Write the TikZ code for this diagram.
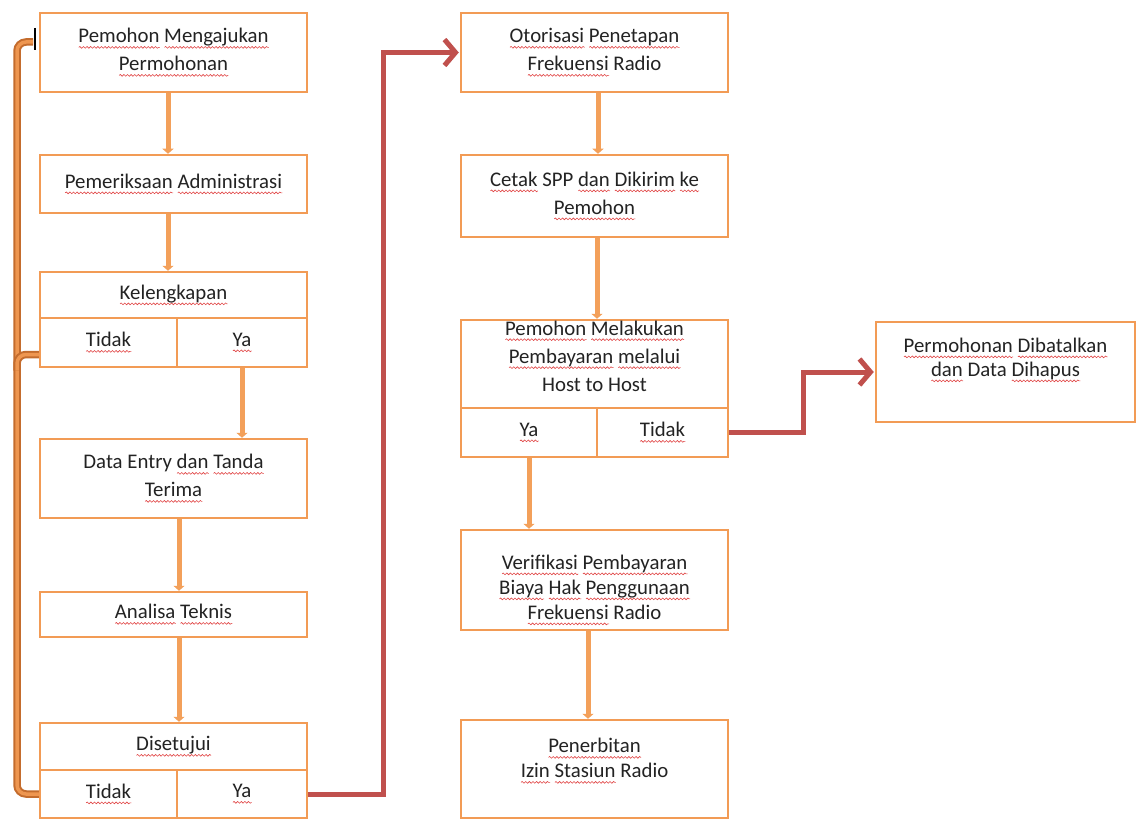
\documentclass[tikz,border=0pt]{standalone}
\usepackage{fontspec}
\setmainfont{Carlito}
\usetikzlibrary{arrows.meta,decorations.pathmorphing}

\definecolor{boxline}{RGB}{242,155,85}
\definecolor{flow}{RGB}{243,160,90}
\definecolor{loopdark}{RGB}{196,108,45}
\definecolor{looplight}{RGB}{238,150,80}
\definecolor{jump}{RGB}{192,80,77}
\definecolor{wavered}{RGB}{225,70,70}
\definecolor{ink}{RGB}{35,35,35}

% red wavy underline under a word
\newsavebox\sqbox
\newcommand\sq[1]{\sbox\sqbox{#1}\rlap{\raisebox{-4.5pt}{\tikz[baseline=0pt]
  \draw[wavered, line width=0.6pt, decorate,
    decoration={snake, amplitude=0.9pt, segment length=3.6pt}]
    (0pt,0pt) -- (\wd\sqbox,0pt);}}\usebox\sqbox}

\begin{document}
\begin{tikzpicture}[x=1pt,y=-1pt,
  box/.style 2 args={draw=boxline, line width=2.5pt, fill=white, inner sep=0pt,
    minimum width=#1, minimum height=#2, align=center, text=ink,
    font=\fontsize{20.8}{28}\selectfont},
  label text/.style={inner sep=0pt, align=center, text=ink,
    font=\fontsize{20.8}{28}\selectfont},
  flowarrow/.style={draw=flow, line width=5pt, -{Triangle[length=5pt,width=11pt]}},
  jumparrow/.style={draw=jump, line width=5pt, shorten >=1pt,
    -{Straight Barb[length=11pt,width=26pt]}},
  loopline/.style={draw=loopdark, line width=2pt, double=looplight,
    double distance=3.5pt, rounded corners=9pt},
]
\useasboundingbox[fill=white] (0,0) rectangle (1137,821);

% ---- left column ----
\node[box={267pt}{79pt}] (b1) at (173.5,52.5)
  {\sq{Pemohon} \sq{Mengajukan}\\ \sq{Permohonan}};
\node[box={267pt}{58pt}] (b2) at (173.5,184)
  {\sq{Pemeriksaan} \sq{Administrasi}};
\node[box={267pt}{46pt}] (b3) at (173.5,295) {\sq{Kelengkapan}};
\node[box={137pt}{49pt}] (b3l) at (108.5,342.5) {\sq{Tidak}};
\node[box={130pt}{49pt}] (b3r) at (242,342.5) {\sq{Ya}};
\node[box={267pt}{79pt}] (b4) at (173.5,478.5)
  {Data Entry \sq{dan} \sq{Tanda}\\ \sq{Terima}};
\node[box={267pt}{45pt}] (b5) at (173.5,614.5) {\sq{Analisa} \sq{Teknis}};
\node[box={267pt}{47pt}] (b6) at (173.5,746.5) {\sq{Disetujui}};
\node[box={137pt}{48pt}] (b6l) at (108.5,794) {\sq{Tidak}};
\node[box={130pt}{48pt}] (b6r) at (242,794) {\sq{Ya}};

% ---- right column ----
\node[box={267pt}{79pt}] (r1) at (594.5,52.5)
  {\sq{Otorisasi} \sq{Penetapan}\\ \sq{Frekuensi} Radio};
\node[box={267pt}{82pt}] (r2) at (594.5,196)
  {\sq{Cetak} SPP \sq{dan} \sq{Dikirim} \sq{ke}\\ \sq{Pemohon}};
\node[box={267pt}{88pt}] (r3) at (594.5,364) {};
\node[label text] (r3t) at ([yshift=8pt]r3.center)
  {\sq{Pemohon} \sq{Melakukan}\\ \sq{Pembayaran} \sq{melalui}\\ Host to Host};
\node[box={136pt}{49pt}] (r3l) at (529,432.5) {\sq{Ya}};
\node[box={131pt}{49pt}] (r3r) at (662.5,432.5) {\sq{Tidak}};
\node[box={267pt}{100pt}] (r4) at (594.5,580) {};
\node[label text] (r4t) at ([yshift=-10pt]r4.center)
  {\sq{Verifikasi} \sq{Pembayaran}\\[-3pt] \sq{Biaya} \sq{Hak} \sq{Penggunaan}\\[-3pt] \sq{Frekuensi} Radio};
\node[box={267pt}{98pt}] (r5) at (594.5,769) {};
\node[label text] (r5t) at ([yshift=8pt]r5.center)
  {\sq{Penerbitan}\\[-3pt] \sq{Izin} \sq{Stasiun} Radio};

% ---- cancelled branch ----
\node[box={259pt}{100pt}] (pd) at (1005.5,372) {};
\node[label text] (pdt) at ([yshift=12pt]pd.center)
  {\sq{Permohonan} \sq{Dibatalkan}\\[-4pt] \sq{dan} Data \sq{Dihapus}};

% ---- main flow ----
\draw[flowarrow] ([xshift=-5.5pt]b1.south) -- ([xshift=-5.5pt]b2.north);
\draw[flowarrow] ([xshift=-5.5pt]b2.south) -- ([xshift=-5.5pt]b3.north);
\draw[flowarrow] (b3r.south) -- (b3r.south |- b4.north);
\draw[flowarrow] ([xshift=5.5pt]b4.south) -- ([xshift=5.5pt]b5.north);
\draw[flowarrow] ([xshift=5.5pt]b5.south) -- ([xshift=5.5pt]b6.north);
\draw[flowarrow] ([xshift=3.5pt]r1.south) -- ([xshift=3.5pt]r2.north);
\draw[flowarrow] ([xshift=2.5pt]r2.south) -- ([xshift=2.5pt]r3.north);
\draw[flowarrow] (r3l.south) -- (r3l.south |- r4.north);
\draw[flowarrow] ([xshift=-6.5pt]r4.south) -- ([xshift=-6.5pt]r5.north);

% ---- return loop on the left ----
\coordinate (rail) at (17,0);
\coordinate (loopend) at (33,42);
\coordinate (kjoin) at ([yshift=-12pt]b3l.west);
\draw[loopline] (b6l.west) -- (b6l.west -| rail) -- (rail |- loopend) -- (loopend);
\draw[loopline] (kjoin) -- (kjoin -| rail) -- ([yshift=-16pt]kjoin -| rail);
\coordinate (caret) at (35,28);
\draw[black, line width=2.5pt] (caret) -- ++(0,22);

% ---- approval and cancellation jumps ----
\coordinate (redx) at (383,0);
\draw[jumparrow] (b6r.east) -- (b6r.east -| redx) -- (redx |- r1.west) -- (r1.west);
\coordinate (redx2) at (803,0);
\draw[jumparrow] (r3r.east) -- (r3r.east -| redx2) -- (redx2 |- pd.west) -- (pd.west);
\end{tikzpicture}
\end{document}
